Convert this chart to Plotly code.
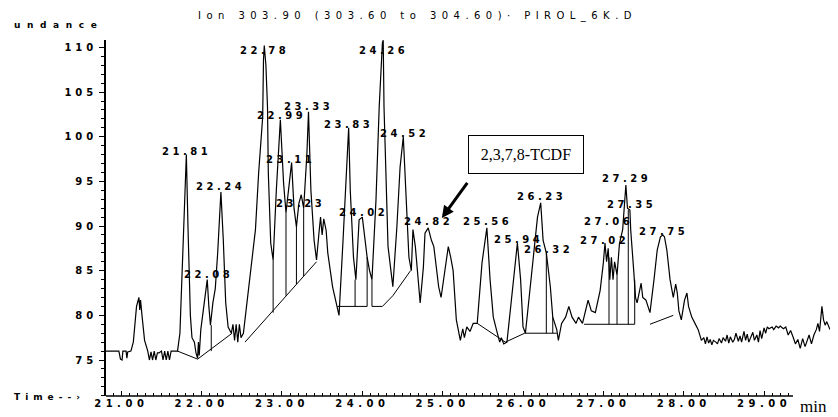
import plotly.graph_objects as go

# ---------------- data ----------------
time_min = [20.81, 20.97, 20.99, 21.01, 21.02, 21.06, 21.07, 21.08, 21.12, 21.15, 21.19, 21.22, 21.23, 21.24,
            21.26, 21.29, 21.33, 21.35, 21.37, 21.39, 21.41, 21.43, 21.45, 21.47, 21.50, 21.52, 21.54, 21.56,
            21.58, 21.60, 21.62, 21.70, 21.73, 21.75, 21.78, 21.81, 21.83, 21.84, 21.86, 21.88, 21.91, 21.93,
            21.95, 21.96, 21.97, 21.99, 22.03, 22.07, 22.09, 22.11, 22.14, 22.17, 22.20, 22.24, 22.27, 22.30,
            22.33, 22.37, 22.39, 22.41, 22.43, 22.45, 22.47, 22.49, 22.52, 22.56, 22.67, 22.71, 22.76, 22.77,
            22.78, 22.80, 22.82, 22.83, 22.86, 22.89, 22.93, 22.98, 23.02, 23.05, 23.09, 23.12, 23.15, 23.18,
            23.21, 23.24, 23.27, 23.31, 23.33, 23.36, 23.40, 23.43, 23.46, 23.48, 23.50, 23.52, 23.55, 23.57,
            23.63, 23.71, 23.76, 23.83, 23.85, 23.89, 23.92, 23.96, 24.00, 24.03, 24.06, 24.09, 24.12, 24.17,
            24.21, 24.25, 24.26, 24.27, 24.30, 24.32, 24.36, 24.38, 24.43, 24.47, 24.51, 24.53, 24.56, 24.58,
            24.61, 24.63, 24.66, 24.70, 24.72, 24.76, 24.78, 24.82, 24.86, 24.89, 24.92, 24.95, 24.98, 25.03,
            25.07, 25.10, 25.13, 25.17, 25.22, 25.25, 25.27, 25.30, 25.34, 25.38, 25.43, 25.49, 25.55, 25.59,
            25.63, 25.68, 25.71, 25.73, 25.76, 25.80, 25.86, 25.93, 25.97, 26.00, 26.03, 26.06, 26.12, 26.18,
            26.22, 26.25, 26.29, 26.34, 26.37, 26.42, 26.44, 26.48, 26.53, 26.57, 26.61, 26.66, 26.69, 26.74,
            26.81, 26.85, 26.90, 26.96, 27.00, 27.02, 27.04, 27.06, 27.08, 27.10, 27.12, 27.14, 27.17, 27.20,
            27.24, 27.28, 27.30, 27.33, 27.34, 27.36, 27.38, 27.40, 27.42, 27.47, 27.49, 27.53, 27.56, 27.58,
            27.63, 27.67, 27.71, 27.74, 27.76, 27.79, 27.83, 27.87, 27.90, 27.92, 27.94, 27.97, 28.01, 28.04,
            28.06, 28.10, 28.14, 28.18, 28.22,
            28.25, 28.27, 28.29, 28.31, 28.33, 28.35, 28.37, 28.40, 28.42, 28.44, 28.47, 28.49, 28.52, 28.54,
            28.56, 28.58, 28.61, 28.63, 28.65, 28.68, 28.70, 28.72, 28.75, 28.77, 28.79, 28.81, 28.84, 28.86,
            28.88, 28.91, 28.93, 28.95, 28.97, 29.00, 29.02, 29.04, 29.06, 29.10, 29.12, 29.15, 29.18, 29.20,
            29.24, 29.27, 29.30, 29.33, 29.36, 29.39, 29.42, 29.45, 29.48, 29.51, 29.53, 29.56, 29.59, 29.62,
            29.65, 29.67, 29.69, 29.72, 29.74, 29.76, 29.78, 29.82]
abundance = [76.0, 76.0, 75.1, 75.0, 76.0, 76.0, 75.2, 75.9, 76.0, 77.0, 81.0, 82.0, 80.6, 81.7,
             79.8, 77.2, 76.0, 75.0, 75.9, 75.0, 76.0, 75.0, 75.8, 75.8, 76.0, 75.0, 76.0, 75.0,
             76.0, 75.0, 76.0, 76.0, 78.0, 83.0, 90.0, 98.0, 90.0, 86.0, 80.0, 77.5, 77.0, 75.8,
             75.2, 77.0, 75.5, 78.4, 81.5, 84.0, 81.0, 78.9, 81.4, 83.0, 87.0, 93.8, 88.4, 81.4,
             78.7, 78.0, 79.0, 77.2, 79.0, 77.0, 79.0, 77.5, 78.0, 81.0, 89.6, 96.0, 102.2, 108.6,
             110.2, 108.0, 103.3, 96.0, 88.1, 86.2, 94.0, 101.9, 94.8, 91.5, 94.5, 97.1, 92.0, 89.9,
             92.5, 93.5, 92.0, 98.0, 102.8, 94.0, 88.4, 86.2, 89.2, 91.0, 89.0, 90.8, 89.5, 87.0,
             83.2, 80.0, 88.4, 101.0, 94.0, 86.5, 84.0, 90.7, 91.0, 88.4, 86.5, 85.0, 84.0, 92.9,
             103.3, 110.5, 110.8, 103.3, 94.0, 87.7, 84.7, 83.2, 89.9, 96.6, 100.0, 96.0, 89.9, 86.5,
             85.0, 89.6, 87.7, 84.0, 81.4, 85.4, 89.2, 89.8, 88.4, 87.7, 85.4, 83.2, 82.0, 85.4,
             87.7, 86.5, 85.0, 79.5, 77.2, 78.5, 77.5, 78.7, 78.2, 79.1, 79.1, 85.9, 89.8, 84.0,
             79.8, 78.0, 77.0, 77.5, 76.8, 77.0, 82.0, 88.1, 84.0, 78.7, 78.0, 80.6, 85.0, 91.0,
             92.6, 88.4, 87.0, 83.2, 79.8, 78.4, 77.2, 79.1, 79.8, 81.0, 79.8, 79.1, 79.8, 79.1,
             81.7, 80.5, 80.3, 82.8, 85.9, 88.1, 86.0, 87.5, 84.0, 86.5, 84.0, 86.0, 84.5, 88.0,
             89.6, 94.6, 92.0, 91.8, 89.6, 86.5, 84.7, 82.0, 81.4, 83.6, 82.0, 81.7, 81.0, 80.3,
             84.0, 87.3, 88.8, 89.0, 88.8, 87.3, 84.0, 82.0, 83.5, 82.5, 80.5, 79.5, 81.7, 82.5,
             81.0, 79.8, 79.1, 78.4, 77.2,
             77.5, 76.8, 77.6, 76.9, 77.3, 76.7, 77.2, 77.0, 76.8, 77.4, 76.9, 77.5, 77.1, 77.8,
             76.9, 77.6, 77.0, 77.3, 78.0, 77.1, 77.7, 77.0, 78.2, 77.2, 77.9, 77.0, 77.6, 78.1,
             77.2, 77.8, 77.0, 78.3, 77.4, 78.6, 78.0, 78.7, 78.5, 78.7, 78.4, 78.8, 78.6, 78.8,
             78.5, 78.7, 77.8, 78.3, 77.6, 76.8, 77.3, 76.3, 77.4, 76.5, 77.0, 77.8, 76.8, 77.8,
             78.4, 79.1, 78.2, 81.0, 79.5, 78.9, 79.3, 78.4]

# integration baselines (None separates segments)
baseline_t = [21.70, 21.95, 22.38, None,
              22.54, 23.43, None,
              23.69, 24.06, None,
              24.12, 24.12, 24.25, 24.38, 24.60, None,
              25.43, 25.78, 26.02, 26.42, None,
              26.76, 27.39, None,
              27.58, 27.87]
baseline_a = [76.0, 75.1, 78.0, None,
              77.0, 86.0, None,
              81.0, 81.0, None,
              84.0, 81.0, 81.0, 82.2, 85.0, None,
              79.1, 77.0, 78.0, 78.0, None,
              79.0, 79.0, None,
              79.0, 80.0]

# vertical drop lines between peaks
drop_t = [22.12, 22.89, 23.05, 23.18, 23.27, 23.91, 24.06, 26.29, 26.37, 27.07, 27.17, 27.31, 27.39]
drop_top = [78.9, 86.2, 91.5, 89.9, 92.0, 84.0, 86.5, 87.0, 79.8, 86.5, 84.5, 91.8, 84.0]
drop_bottom = [76.0, 80.3, 82.2, 83.5, 84.4, 81.0, 81.0, 78.0, 78.0, 79.0, 79.0, 79.0, 79.0]

# peak retention-time labels and the height where each label sits
peak_labels = ["21.81", "22.08", "22.24", "22.78", "22.99", "23.11", "23.23", "23.33", "23.83", "24.02",
               "24.26", "24.52", "24.82", "25.56", "25.94", "26.23", "26.32", "27.02", "27.06", "27.29",
               "27.35", "27.75"]
peak_label_y = [98.4, 84.6, 94.4, 109.6, 102.4, 97.4, 92.5, 103.4, 101.4, 91.5,
                109.6, 100.4, 90.5, 90.5, 88.5, 93.3, 87.4, 88.4, 90.5, 95.3,
                92.4, 89.4]

x_tick_vals = [21, 22, 23, 24, 25, 26, 27, 28, 29]
x_tick_text = ["21.00", "22.00", "23.00", "24.00", "25.00", "26.00", "27.00", "28.00", "29.00"]
y_tick_vals = [75, 80, 85, 90, 95, 100, 105, 110]
y_tick_text = ["75", "80", "85", "90", "95", "100", "105", "110"]


def wide(s, ls=4, bold=True):
    inner = f'<span style="letter-spacing:{ls}px">{s}</span>'
    return f"<b>{inner}</b>" if bold else inner


FONT = "DejaVu Sans"

fig = go.Figure()

fig.add_trace(go.Scatter(x=time_min, y=abundance, mode="lines",
                         line=dict(color="black", width=1.2), hoverinfo="skip"))
fig.add_trace(go.Scatter(x=baseline_t, y=baseline_a, mode="lines",
                         line=dict(color="black", width=1), hoverinfo="skip"))
dx, dy = [], []
for t, a0, a1 in zip(drop_t, drop_top, drop_bottom):
    dx += [t, t, None]
    dy += [a0, a1, None]
fig.add_trace(go.Scatter(x=dx, y=dy, mode="lines",
                         line=dict(color="black", width=1), hoverinfo="skip"))

annotations = []
for lab, ly in zip(peak_labels, peak_label_y):
    annotations.append(dict(x=float(lab), y=ly, xref="x", yref="y", text=wide(lab, 3.5),
                            showarrow=False, xanchor="center", yanchor="middle",
                            font=dict(family=FONT, size=10, color="black")))

# title, axis captions
annotations.append(dict(x=0.426, y=1.067, xref="paper", yref="paper",
                        text=wide("Ion 303.90 (303.60 to 304.60)· PIROL_6K.D", 5.45, bold=False),
                        showarrow=False, xanchor="center", yanchor="middle",
                        font=dict(family=FONT, size=10, color="black")))
annotations.append(dict(x=-0.128, y=1.042, xref="paper", yref="paper", text=wide("undance", 6.6),
                        showarrow=False, xanchor="left", yanchor="middle",
                        font=dict(family=FONT, size=9, color="black")))
annotations.append(dict(x=-0.128, y=-0.003, xref="paper", yref="paper", text=wide("Time--›", 5),
                        showarrow=False, xanchor="left", yanchor="middle",
                        font=dict(family=FONT, size=9, color="black")))
annotations.append(dict(x=29.61, y=-0.029, xref="x", yref="paper", text="min",
                        showarrow=False, xanchor="center", yanchor="middle",
                        font=dict(family="Liberation Serif", size=17, color="black")))

# compound box and arrow
annotations.append(dict(x=26.04, y=97.96, xref="x", yref="y", text="2,3,7,8-TCDF",
                        showarrow=False, xanchor="center", yanchor="middle",
                        width=96, height=19,
                        bordercolor="black", borderwidth=1, borderpad=9, bgcolor="white",
                        font=dict(family="Liberation Serif", size=16, color="black")))
annotations.append(dict(x=24.99, y=90.9, xref="x", yref="y", ax=25.32, ay=95.0,
                        axref="x", ayref="y", text="", showarrow=True,
                        arrowhead=2, arrowsize=0.8, arrowwidth=3, arrowcolor="black"))

# the page body adds an 8 px offset, so the figure is sized to end at the window edge
fig.update_layout(
    width=830, height=409,
    margin=dict(l=98, r=0, t=32, b=21, autoexpand=False),
    paper_bgcolor="white", plot_bgcolor="white",
    showlegend=False,
    annotations=annotations,
    shapes=[dict(type="line", xref="x", yref="paper", x0=20.81, x1=29.36, y0=0, y1=0,
                 line=dict(color="black", width=1.5))],
    xaxis=dict(range=[20.81, 29.92], showgrid=False, zeroline=False, showline=False,
               automargin=False,
               tickmode="array", tickvals=x_tick_vals,
               ticktext=[wide(t, 4.5) for t in x_tick_text],
               ticks="inside", ticklen=5, tickcolor="black", tickwidth=1,
               minor=dict(ticks="inside", ticklen=3, tickcolor="black",
                          tickmode="array",
                          tickvals=[20.9 + 0.1 * i for i in range(85)]),
               tickfont=dict(family=FONT, size=10, color="black")),
    yaxis=dict(range=[70.97, 110.83], showgrid=False, zeroline=False, showline=True,
               automargin=False,
               linecolor="black", linewidth=1.5,
               tickmode="array", tickvals=y_tick_vals,
               ticktext=[wide(t, 4) for t in y_tick_text],
               ticks="outside", ticklen=5, tickcolor="black",
               minor=dict(ticks="outside", ticklen=3, tickcolor="black", dtick=1),
               tickfont=dict(family=FONT, size=10, color="black")),
)

fig.write_html("out.html")
